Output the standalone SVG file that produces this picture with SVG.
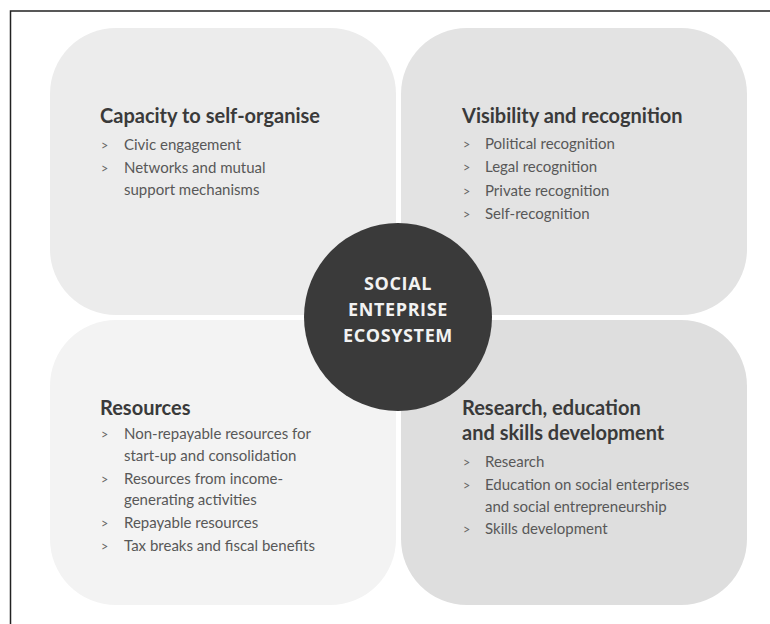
<svg xmlns="http://www.w3.org/2000/svg" width="770" height="624" viewBox="0 0 770 624">
  <style>
    .title { font-family: Lato, "Liberation Sans", sans-serif; font-weight: 700; font-size: 20px; fill: #3a3a3a; }
    .item { font-family: Lato, "Liberation Sans", sans-serif; font-weight: 400; font-size: 15px; fill: #585858; }
    .mark { font-family: Lato, "Liberation Sans", sans-serif; font-size: 12.5px; fill: #666; }
    .core { font-family: "Open Sans", "Liberation Sans", sans-serif; font-weight: 700; font-size: 18px; fill: #f2f2f2; text-anchor: middle; letter-spacing: 0.6px; }
  </style>
  <rect width="770" height="624" fill="#ffffff"/>
  <!-- frame (top and left rules) -->
  <path d="M10.5 624 V11 H770" fill="none" stroke="#222" stroke-width="1.5"/>

  <g id="capacity">
    <rect x="50" y="28" width="346" height="287" rx="66" fill="#ececec"/>
    <text class="title" x="100" y="123">Capacity to self-organise</text>
    <text class="mark" x="101" y="150">&gt;</text>
    <text class="item" x="124" y="150">Civic engagement</text>
    <text class="mark" x="101" y="173">&gt;</text>
    <text class="item" x="124" y="173">Networks and mutual</text>
    <text class="item" x="124" y="195">support mechanisms</text>
  </g>

  <g id="visibility">
    <rect x="401" y="28" width="346" height="287" rx="66" fill="#e3e3e3"/>
    <text class="title" x="462" y="123">Visibility and recognition</text>
    <text class="mark" x="463" y="149">&gt;</text>
    <text class="item" x="485" y="149">Political recognition</text>
    <text class="mark" x="463" y="172">&gt;</text>
    <text class="item" x="485" y="172">Legal recognition</text>
    <text class="mark" x="463" y="196">&gt;</text>
    <text class="item" x="485" y="196">Private recognition</text>
    <text class="mark" x="463" y="219">&gt;</text>
    <text class="item" x="485" y="219">Self-recognition</text>
  </g>

  <g id="resources">
    <rect x="50" y="320" width="346" height="285" rx="66" fill="#f3f3f3"/>
    <text class="title" x="100" y="415">Resources</text>
    <text class="mark" x="101" y="439">&gt;</text>
    <text class="item" x="124" y="439">Non-repayable resources for</text>
    <text class="item" x="124" y="461">start-up and consolidation</text>
    <text class="mark" x="101" y="484">&gt;</text>
    <text class="item" x="124" y="484">Resources from income-</text>
    <text class="item" x="124" y="505">generating activities</text>
    <text class="mark" x="101" y="528">&gt;</text>
    <text class="item" x="124" y="528">Repayable resources</text>
    <text class="mark" x="101" y="551">&gt;</text>
    <text class="item" x="124" y="551">Tax breaks and fiscal benefits</text>
  </g>

  <g id="research">
    <rect x="401" y="320" width="346" height="285" rx="66" fill="#dedede"/>
    <text class="title" x="462" y="415">Research, education</text>
    <text class="title" x="462" y="440">and skills development</text>
    <text class="mark" x="463" y="467">&gt;</text>
    <text class="item" x="485" y="467">Research</text>
    <text class="mark" x="463" y="490">&gt;</text>
    <text class="item" x="485" y="490">Education on social enterprises</text>
    <text class="item" x="485" y="512">and social entrepreneurship</text>
    <text class="mark" x="463" y="534">&gt;</text>
    <text class="item" x="485" y="534">Skills development</text>
  </g>

  <g id="ecosystem">
    <circle cx="398" cy="317" r="94" fill="#3a3a3a"/>
    <text class="core" x="398" y="290">SOCIAL</text>
    <text class="core" x="398" y="316">ENTEPRISE</text>
    <text class="core" x="398" y="342">ECOSYSTEM</text>
  </g>

  <g id="connectors"/>
</svg>
